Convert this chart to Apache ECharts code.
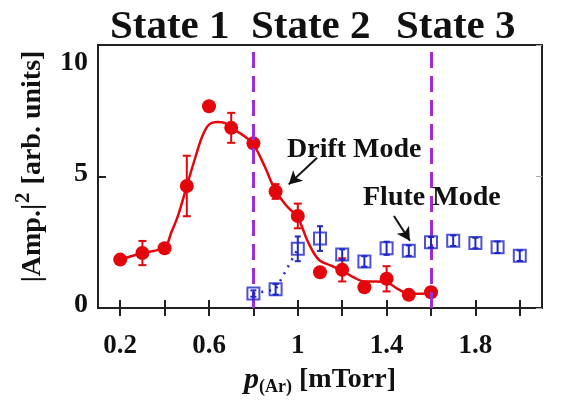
<!DOCTYPE html>
<html><head><meta charset="utf-8">
<script src="https://cdn.jsdelivr.net/npm/echarts@6/dist/echarts.min.js"></script>
<style>html,body{margin:0;padding:0;background:#fff}#c{width:586px;height:401px}</style>
</head><body><div id="c"></div>
<script>
// ---- data ----
const redX   = [0.2, 0.3, 0.4, 0.5, 0.6, 0.7, 0.8, 0.9, 1.0, 1.1, 1.2, 1.3, 1.4, 1.5, 1.6];
const redY   = [1.84, 2.09, 2.27, 4.64, 7.67, 6.85, 6.26, 4.43, 3.5, 1.36, 1.45, 0.79, 1.11, 0.5, 0.6];
const redErr = [0, 0.46, 0, 1.15, 0, 0.57, 0, 0.28, 0.47, 0, 0.44, 0, 0.48, 0, 0];
const fitX = [0.2,0.3,0.4,0.43,0.46,0.5,0.54,0.57,0.6,0.64,0.67,0.7,0.76,0.8,0.85,0.9,0.95,1.0,1.04,1.07,1.1,1.15,1.2,1.25,1.3,1.35,1.4,1.45,1.5,1.55,1.6];
const fitY = [1.84,2.09,2.31,2.87,3.5,4.64,5.77,6.53,6.97,7.07,7.04,6.85,6.53,6.22,5.4,4.45,3.88,3.44,2.62,2.12,1.8,1.61,1.42,1.17,1.01,1.01,0.98,0.73,0.54,0.54,0.6];
const blueX   = [0.8, 0.9, 1.0, 1.1, 1.2, 1.3, 1.4, 1.5, 1.6, 1.7, 1.8, 1.9, 2.0];
const blueY   = [0.55, 0.71, 2.25, 2.64, 2.03, 1.77, 2.27, 2.18, 2.5, 2.56, 2.47, 2.31, 1.99];
const blueErr = [0.12, 0.2, 0.47, 0.47, 0.2, 0.2, 0.25, 0.2, 0.2, 0.2, 0.2, 0.22, 0.2];
const dottedCount = 3; // blue points joined by dotted line
const stateLines = [0.8, 1.6];
const xTicks  = [0.2,0.4,0.6,0.8,1.0,1.2,1.4,1.6,1.8,2.0];
const xLabels = [0.2,0.6,1.0,1.4,1.8];
const stateNames = ['State 1','State 2','State 3'];
const driftArrow = [[1.087, 5.71],[0.959, 4.70]];
const fluteArrow = [[1.433, 3.50],[1.505, 2.56]];

const RED = '#e3070d', BLUE = '#1f27c8', PURPLE = '#9a2fd6';
const FONT = 'Liberation Serif';

function errData(xs, ys, es){
  const out=[]; xs.forEach((x,i)=>{ if(es[i]>0) out.push([x, ys[i]-es[i], ys[i]+es[i]]); }); return out;
}
function errRender(cap, color, lw){
  return function(params, api){
    const x=api.value(0), lo=api.value(1), hi=api.value(2);
    const a=api.coord([x,lo]), b=api.coord([x,hi]);
    const st={stroke:color, lineWidth:lw};
    return {type:'group', children:[
      {type:'line', shape:{x1:a[0],y1:a[1],x2:b[0],y2:b[1]}, style:st},
      {type:'line', shape:{x1:a[0]-cap,y1:a[1],x2:a[0]+cap,y2:a[1]}, style:st},
      {type:'line', shape:{x1:b[0]-cap,y1:b[1],x2:b[0]+cap,y2:b[1]}, style:st}
    ]};
  };
}

const chart = echarts.init(document.getElementById('c'), null, {renderer:'canvas'});
const axisCommon = {min:0.1, max:2.1, type:'value', splitLine:{show:false}};
chart.setOption({
  animation:false,
  backgroundColor:'#fff',
  grid:{left:98, right:44, top:45, bottom:92, show:true, borderColor:'#222', borderWidth:2},
  xAxis:[
    Object.assign({}, axisCommon, {
      position:'bottom',
      axisLine:{show:true, lineStyle:{color:'#222', width:2}},
      axisTick:{show:true, inside:false, length:8, customValues:xTicks, lineStyle:{color:'#222', width:2}},
      axisLabel:{customValues:xLabels, margin:25, fontFamily:FONT, fontWeight:'bold', fontSize:27, color:'#111'},
      name:'{p|p}{s|(Ar)}{b| [mTorr]}', nameLocation:'middle', nameGap:56,
      nameTextStyle:{rich:{
        p:{fontFamily:FONT, fontStyle:'italic', fontWeight:'bold', fontSize:30, color:'#111'},
        s:{fontFamily:FONT, fontWeight:'bold', fontSize:18, color:'#111', padding:[14,0,0,0]},
        b:{fontFamily:FONT, fontWeight:'bold', fontSize:28, color:'#111'}
      }}
    }),
    Object.assign({}, axisCommon, {
      position:'bottom',
      axisLine:{show:false},
      axisTick:{show:true, inside:true, length:8, customValues:xTicks, lineStyle:{color:'#222', width:2}},
      axisLabel:{show:false}
    })
  ],
  yAxis:[
    {type:'value', min:0, max:10, interval:5, position:'left', splitLine:{show:false},
     axisLine:{show:true, lineStyle:{color:'#222', width:2}},
     axisTick:{show:true, inside:true, length:8, lineStyle:{color:'#222', width:2}},
     axisLabel:{margin:10, color:'#111',
       formatter:v=> v===10 ? '{t|10}' : '{n|'+v+'}',
       rich:{
         t:{fontFamily:FONT, fontWeight:'bold', fontSize:28, color:'#111', padding:[36,0,0,0]},
         n:{fontFamily:FONT, fontWeight:'bold', fontSize:28, color:'#111', padding:[0,0,6,0]}
       }},
     name:'{a||Amp.|}{s|2}{a| [arb. units]}', nameLocation:'middle', nameGap:46, nameRotate:90,
     nameTextStyle:{padding:[0,0,0,20], rich:{
       a:{fontFamily:FONT, fontWeight:'bold', fontSize:28, color:'#111'},
       s:{fontFamily:FONT, fontWeight:'bold', fontSize:21, color:'#111', padding:[0,1,18,1]}
     }}},
    {type:'value', min:0, max:10, interval:5, position:'right', splitLine:{show:false},
     axisLine:{show:false}, axisLabel:{show:false},
     axisTick:{show:true, inside:true, length:6, lineStyle:{color:'#aaa', width:1}}}
  ],
  series:[
    {type:'line', name:'fit', data:fitX.map((x,i)=>[x,fitY[i]]), smooth:0.35, showSymbol:false, symbol:'none',
     lineStyle:{color:RED, width:2.5}, z:2, silent:true,
     markLine:{silent:true, symbol:['none','arrow'], symbolSize:[11,13], label:{show:false},
       lineStyle:{color:'#111', width:2, type:'solid'},
       data:[
         [{coord:driftArrow[0]},{coord:driftArrow[1]}],
         [{coord:fluteArrow[0]},{coord:fluteArrow[1]}]
       ]}},
    {type:'custom', name:'redErr', data:errData(redX, redY, redErr), renderItem:errRender(4, RED, 2), z:3, silent:true},
    {type:'scatter', name:'drift', data:redX.map((x,i)=>[x,redY[i]]), symbol:'circle', symbolSize:14,
     itemStyle:{color:RED, opacity:1}, z:4, silent:true},
    {type:'line', name:'dotted', data:blueX.slice(0,dottedCount).map((x,i)=>[x,blueY[i]]), symbol:'none',
     lineStyle:{color:BLUE, width:2.5, type:[2,6]}, z:5, silent:true},
    {type:'custom', name:'blueErr', data:errData(blueX, blueY, blueErr), renderItem:errRender(3, BLUE, 2), z:6, silent:true},
    {type:'scatter', name:'flute', data:blueX.map((x,i)=>[x,blueY[i]]), symbol:'rect', symbolSize:12,
     itemStyle:{color:'rgba(0,0,0,0)', borderColor:BLUE, borderWidth:2}, z:7, silent:true,
     markLine:{silent:true, symbol:'none', label:{show:false},
       lineStyle:{color:PURPLE, width:3, type:[16,8]},
       data: stateLines.map(v=>({xAxis:v}))}}
  ],
  graphic:[
    {type:'text', left:110, top:7, style:{text:stateNames[0], font:'bold 41px "Liberation Serif"', fill:'#111'}},
    {type:'text', left:251, top:7, style:{text:stateNames[1], font:'bold 41px "Liberation Serif"', fill:'#111'}},
    {type:'text', left:396, top:7, style:{text:stateNames[2], font:'bold 41px "Liberation Serif"', fill:'#111'}},
    {type:'text', left:287, top:136, z:100, style:{text:'Drift Mode', font:'bold 28px "Liberation Serif"', fill:'#111'}},
    {type:'text', left:363, top:184, z:100, style:{text:'Flute Mode', font:'bold 28px "Liberation Serif"', fill:'#111'}}
  ]
});
</script></body></html>
